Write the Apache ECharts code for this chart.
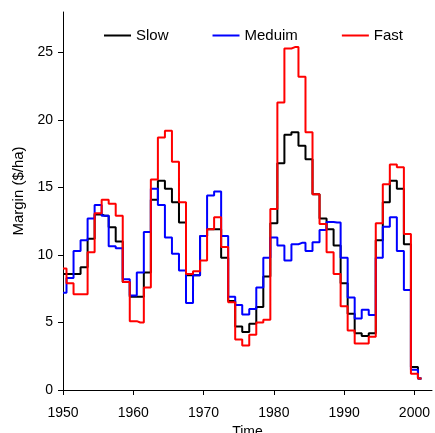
<!DOCTYPE html>
<html>
<head>
<meta charset="utf-8">
<script src="https://cdn.jsdelivr.net/npm/echarts@6/dist/echarts.min.js"></script>
<style>
  html, body { margin: 0; padding: 0; background: #fff; }
  #chart { width: 435px; height: 433px; }
</style>
</head>
<body>
<div id="chart"></div>
<script>
// years 1950..2001, one value per year
const years = [1950, 1951, 1952, 1953, 1954, 1955, 1956, 1957, 1958, 1959,
  1960, 1961, 1962, 1963, 1964, 1965, 1966, 1967, 1968, 1969,
  1970, 1971, 1972, 1973, 1974, 1975, 1976, 1977, 1978, 1979,
  1980, 1981, 1982, 1983, 1984, 1985, 1986, 1987, 1988, 1989,
  1990, 1991, 1992, 1993, 1994, 1995, 1996, 1997, 1998, 1999,
  2000, 2001]

const slow = [8.6, 8.6, 8.6, 9.1, 11.2, 13.0, 12.9, 12.05, 11.0, 8.0,
  6.9, 6.9, 8.7, 14.1, 15.5, 14.9, 13.9, 12.4, 8.5, 8.5,
  11.4, 11.9, 11.9, 9.8, 6.6, 4.7, 4.3, 4.9, 6.15, 8.4,
  12.35, 16.8, 18.9, 19.1, 18.1, 17.1, 14.5, 12.7, 11.9, 10.7,
  7.9, 5.65, 4.2, 4.0, 4.2, 11.1, 13.9, 15.5, 14.9, 10.8,
  1.7, 0.85]

const meduim = [7.2, 8.3, 10.3, 11.1, 12.7, 13.7, 12.9, 10.65, 10.5, 8.2,
  7.0, 8.7, 11.7, 14.9, 13.7, 11.3, 10.1, 8.85, 6.45, 8.5,
  11.4, 14.4, 14.7, 11.4, 6.9, 6.3, 5.6, 6.0, 7.6, 9.8,
  11.3, 10.7, 9.6, 10.8, 10.9, 10.3, 10.95, 11.85, 12.45, 12.4,
  9.8, 6.85, 5.3, 5.95, 5.55, 9.8, 12.1, 12.8, 10.3, 7.4,
  1.5, 0.85]

const fast = [9.0, 7.9, 7.1, 7.1, 10.2, 13.1, 14.1, 13.8, 12.9, 8.0,
  5.1, 5.0, 7.6, 15.6, 18.7, 19.2, 16.9, 13.9, 8.6, 8.8,
  9.6, 11.9, 12.8, 10.6, 6.5, 3.75, 3.3, 4.1, 5.0, 5.2,
  13.4, 21.3, 25.3, 25.4, 23.2, 19.1, 14.5, 12.3, 10.2, 8.6,
  6.2, 4.4, 3.45, 3.45, 3.95, 12.35, 15.25, 16.7, 16.5, 11.55,
  1.2, 0.85]

const xTicks = [1950, 1960, 1970, 1980, 1990, 2000]
const yTicks = [0, 5, 10, 15, 20, 25]

const font = 'Arial, "Liberation Sans", Helvetica, sans-serif'

const pairs = (vals) => years.map((y, i) => [y, vals[i]])

const makeSeries = (name, vals, color) => ({
  name: name,
  type: 'line',
  step: 'middle',
  symbol: 'none',
  data: pairs(vals),
  lineStyle: { color: color, width: 2 },
  itemStyle: { color: color },
  animation: false
})

const myChart = echarts.init(document.getElementById('chart'))
const option = {
  backgroundColor: '#fff',
  animation: false,
  legend: {
    left: 99,
    top: 23,
    itemWidth: 27,
    itemHeight: 2,
    itemGap: 44,
    icon: 'rect',
    selectedMode: false,
    textStyle: { fontFamily: font, fontSize: 15, color: '#000' },
    data: ['Slow', 'Meduim', 'Fast']
  },
  grid: { left: 63, right: 3, top: 12, bottom: 43, outerBoundsMode: 'none' },
  xAxis: {
    type: 'value',
    min: 1950,
    max: 2002.5,
    name: 'Time',
    nameLocation: 'middle',
    nameGap: 32,
    nameTextStyle: { fontFamily: font, fontSize: 14, color: '#000' },
    axisLine: { onZero: false, lineStyle: { color: '#000', width: 1 } },
    axisTick: { show: true, length: 5, customValues: xTicks, lineStyle: { color: '#000' } },
    axisLabel: {
      customValues: xTicks, margin: 16, fontFamily: font, fontSize: 14, color: '#000',
      formatter: (v) => String(v)
    },
    splitLine: { show: false }
  },
  yAxis: {
    type: 'value',
    min: 0,
    max: 28,
    name: 'Margin ($/ha)',
    nameLocation: 'middle',
    nameGap: 23,
    nameTextStyle: { fontFamily: font, fontSize: 15, color: '#000', padding: [0, 0, 0, 20] },
    axisLine: { show: true, lineStyle: { color: '#000', width: 1 } },
    axisTick: { show: true, length: 5, customValues: yTicks, lineStyle: { color: '#000' } },
    axisLabel: { customValues: yTicks, margin: 10, fontFamily: font, fontSize: 14, color: '#000' },
    splitLine: { show: false }
  },
  series: [
    makeSeries('Slow', slow, '#000000'),
    makeSeries('Meduim', meduim, '#0000ff'),
    makeSeries('Fast', fast, '#ff0000')
  ]
}
myChart.setOption(option)
</script>
</body>
</html>
